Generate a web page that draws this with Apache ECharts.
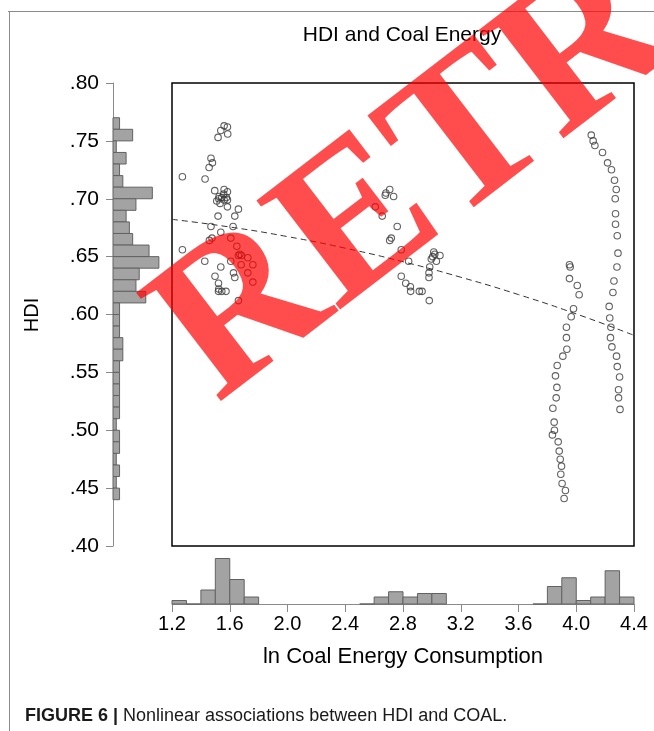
<!DOCTYPE html>
<html><head><meta charset="utf-8">
<script src="https://cdn.jsdelivr.net/npm/echarts@6/dist/echarts.min.js"></script>
<style>html,body{margin:0;padding:0;background:#fff}#c{width:654px;height:731px}</style>
</head><body><div id="c"></div>
<script>
// ---- data ----
// cluster 1 (low coal)
const coalA = [1.561,1.584,1.538,1.586,1.519,1.470,1.480,1.457,1.272,1.429,1.496,1.561,1.584,1.526,1.545,1.577,1.524,1.561,1.584,1.533,1.584,1.660,1.519,1.635,1.470,1.623,1.538,1.477,1.459,1.607,1.272,1.649,1.670,1.660,1.681,1.725,1.427,1.607,1.760,1.538,1.679,1.725,1.626,1.498,1.635,1.760,1.522,1.524,1.522,1.545,1.574,1.660,1.510,1.558];
const hdiA  = [.763,.762,.759,.756,.753,.735,.731,.727,.719,.717,.707,.708,.706,.702,.701,.701,.700,.699,.699,.696,.693,.691,.685,.685,.676,.676,.671,.666,.664,.666,.656,.659,.652,.651,.651,.649,.646,.646,.643,.641,.643,.636,.636,.633,.632,.628,.627,.622,.620,.620,.620,.612,.698,.704];
// cluster 2 (middle)
const coalB = [2.708,2.682,2.677,2.735,2.608,2.656,2.760,2.719,2.708,2.788,2.839,3.013,3.020,3.006,3.056,2.996,3.031,2.985,2.980,2.980,2.788,2.819,2.851,2.853,2.913,2.932,2.982];
const hdiB  = [.708,.705,.703,.702,.693,.685,.676,.666,.664,.656,.646,.654,.652,.650,.651,.648,.646,.641,.636,.632,.633,.627,.624,.620,.620,.620,.612];
// cluster 3 (high coal, left curve)
const coalC = [3.953,3.958,3.953,4.007,4.020,3.981,3.965,3.932,3.932,3.935,3.907,3.868,3.856,3.866,3.861,3.838,3.847,3.849,3.835,3.875,3.882,3.889,3.898,3.893,3.902,3.925,3.916];
const hdiC  = [.643,.641,.631,.625,.617,.605,.598,.589,.580,.570,.564,.556,.547,.537,.528,.519,.507,.500,.496,.490,.482,.475,.469,.462,.454,.448,.441];
// cluster 4 (high coal, right curve)
const coalD = [4.104,4.117,4.129,4.182,4.217,4.244,4.265,4.277,4.270,4.272,4.272,4.284,4.289,4.282,4.261,4.254,4.228,4.232,4.240,4.237,4.247,4.279,4.284,4.300,4.293,4.293,4.303];
const hdiD  = [.755,.750,.746,.740,.731,.725,.716,.708,.700,.687,.678,.668,.653,.641,.629,.619,.607,.597,.589,.580,.572,.564,.555,.546,.535,.528,.518];
// fitted (nonlinear) trend line
const trendX = [1.2,1.6,2.0,2.4,2.8,3.2,3.6,4.0,4.4];
const trendY = [.6822,.6756,.6673,.6573,.6456,.6322,.6172,.6005,.5820];
// HDI histogram (left), bins of 0.01
const hdiBinLo = [.76,.75,.74,.73,.72,.71,.70,.69,.68,.67,.66,.65,.64,.63,.62,.61,.60,.59,.58,.57,.56,.55,.54,.53,.52,.51,.50,.49,.48,.47,.46,.45,.44];
const hdiBinCount = [2,6,1,4,2,3,12,7,4,5,6,11,14,8,7,10,2,2,2,3,3,2,2,2,2,2,1,2,2,1,2,1,2];
// coal histogram (bottom), bins of 0.1
const coalBinLo = [1.2,1.3,1.4,1.5,1.6,1.7,2.5,2.6,2.7,2.8,2.9,3.0,3.7,3.8,3.9,4.0,4.1,4.2,4.3];
const coalBinCount = [2,0,8,26,14,4,0,4,7,4,6,6,0,10,15,2,4,19,4];
const yTicks = [.40,.45,.50,.55,.60,.65,.70,.75,.80];
const xTicks = [1.2,1.6,2.0,2.4,2.8,3.2,3.6,4.0,4.4];

const FONT = '"Liberation Sans", Arial, Helvetica, sans-serif';
const zip = (a,b) => a.map((v,i)=>[v,b[i]]);
const scatterData = [].concat(zip(coalA,hdiA), zip(coalB,hdiB), zip(coalC,hdiC), zip(coalD,hdiD));
const hdiHist = hdiBinLo.map((lo,i)=>[hdiBinCount[i], lo, +(lo+0.01).toFixed(2)]);
const coalHist = coalBinLo.map((lo,i)=>[lo, +(lo+0.1).toFixed(1), coalBinCount[i]]);

const chart = echarts.init(document.getElementById('c'), null, {renderer:'canvas'});
const histStyle = {fill:'#a3a3a3', stroke:'#626262', lineWidth:1};
chart.setOption({
  animation:false,
  backgroundColor:'#fff',
  title:{text:'HDI and Coal Energy', left:397, top:20, textAlign:'center',
    textStyle:{fontFamily:FONT, fontSize:21, fontWeight:'normal', color:'#000'}},
  grid:[
    {left:172, top:83, width:462, height:463, show:true, borderColor:'#000', borderWidth:1.5, backgroundColor:'transparent'},
    {left:113, top:83, width:59, height:463},
    {left:172, top:551.5, width:462, height:52.5}
  ],
  xAxis:[
    {gridIndex:0, type:'value', min:1.2, max:4.4, show:false},
    {gridIndex:1, type:'value', min:0, max:18, show:false},
    {gridIndex:2, type:'value', min:1.2, max:4.4, interval:0.4,
      axisLine:{show:true, onZero:false, lineStyle:{color:'#8a8a8a', width:1}},
      axisTick:{show:true, length:8, lineStyle:{color:'#8a8a8a'}},
      axisLabel:{margin:10, fontFamily:FONT, fontSize:20, color:'#000',
        formatter:v=>{const t=xTicks.find(x=>Math.abs(x-v)<1e-6); return t===undefined?'':t.toFixed(1);}},
      splitLine:{show:false}}
  ],
  yAxis:[
    {gridIndex:0, type:'value', min:0.4, max:0.8, show:false},
    {gridIndex:1, type:'value', min:0.4, max:0.8, interval:0.05,
      axisLine:{show:true, onZero:false, lineStyle:{color:'#8a8a8a', width:1}},
      axisTick:{show:true, length:7, lineStyle:{color:'#8a8a8a'}},
      axisLabel:{margin:14, fontFamily:FONT, fontSize:21, color:'#000',
        formatter:v=>{const t=yTicks.find(x=>Math.abs(x-v)<1e-6); return t===undefined?'':t.toFixed(2).replace(/^0/,'');}},
      splitLine:{show:false}},
    {gridIndex:2, type:'value', min:0, max:30, show:false}
  ],
  series:[
    {type:'scatter', xAxisIndex:0, yAxisIndex:0, data:scatterData, symbol:'circle', symbolSize:6.5,
      itemStyle:{color:'rgba(0,0,0,0)', borderColor:'#3a3a3a', borderWidth:1.1}, z:3},
    {type:'line', xAxisIndex:0, yAxisIndex:0, data:zip(trendX,trendY), symbol:'none', smooth:true,
      lineStyle:{color:'#333', width:1, type:[6,4]}, z:2},
    {type:'custom', xAxisIndex:1, yAxisIndex:1, data:hdiHist, encode:{x:0, y:[1,2]},
      renderItem:(p,api)=>{const a=api.coord([0,api.value(2)]), b=api.coord([api.value(0),api.value(1)]);
        return {type:'rect', shape:{x:a[0], y:a[1], width:b[0]-a[0], height:b[1]-a[1]}, style:histStyle};}},
    {type:'custom', xAxisIndex:2, yAxisIndex:2, data:coalHist, encode:{x:[0,1], y:2},
      renderItem:(p,api)=>{const a=api.coord([api.value(0),api.value(2)]), b=api.coord([api.value(1),0]);
        return {type:'rect', shape:{x:a[0], y:a[1], width:b[0]-a[0], height:b[1]-a[1]}, style:histStyle};}}
  ],
  graphic:[
    {type:'line', shape:{x1:8, y1:11.5, x2:654, y2:11.5}, style:{stroke:'#8c8c8c', lineWidth:1}},
    {type:'line', shape:{x1:9.5, y1:11, x2:9.5, y2:731}, style:{stroke:'#8c8c8c', lineWidth:1}},
    {type:'text', x:32, y:315, rotation:Math.PI/2,
      style:{text:'HDI', font:'20px '+FONT, fill:'#000', align:'center', verticalAlign:'middle'}},
    {type:'text', x:403, y:657,
      style:{text:'ln Coal Energy Consumption', font:'22px '+FONT, fill:'#000', align:'center', verticalAlign:'middle'}},
    {type:'text', x:25, y:716,
      style:{text:'{b|FIGURE 6 |} Nonlinear associations between HDI and COAL.', fontFamily:FONT, fontSize:18, fill:'#1a1a1a',
        align:'left', verticalAlign:'middle', rich:{b:{fontFamily:FONT, fontSize:18, fontWeight:'bold', fill:'#1a1a1a'}}}},
    {type:'text', x:184, y:361, rotation:37.5*Math.PI/180, z:100,
      style:{text:'RETRACTED', font:'bold 210px "Liberation Serif", "Times New Roman", serif', fill:'rgba(255,0,0,0.7)',
        align:'left', verticalAlign:'middle'}}
  ]
});
</script></body></html>
